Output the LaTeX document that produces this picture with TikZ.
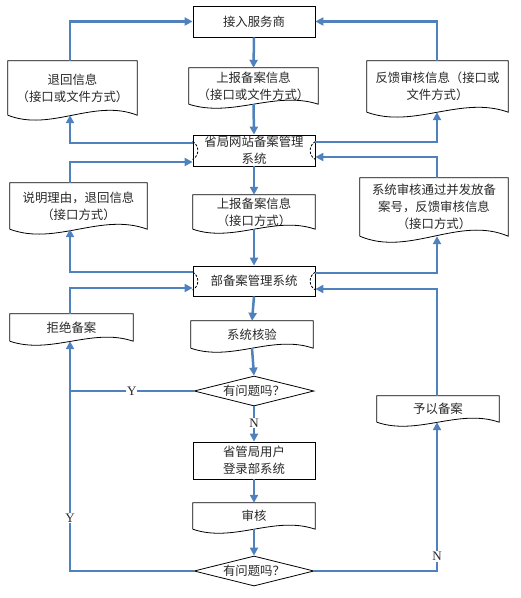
\documentclass[tikz,border=0pt]{standalone}
\usepackage{fontspec}
\setmainfont{Liberation Serif}
\newfontfamily\cjk{Noto Sans CJK SC}
\usetikzlibrary{shapes.geometric,arrows.meta,calc}
\definecolor{lineblue}{RGB}{79,129,189}
\definecolor{txtgray}{RGB}{40,40,40}
\newcommand\wavedoc[2]{%
  \draw[outl] (#1.south west) -- (#1.north west) -- (#1.north east) -- (#1.south east)
    .. controls ($(#1.south east)!0.333!(#1.south west)+(0,-#2)$) and ($(#1.south east)!0.667!(#1.south west)+(0,#2)$) .. (#1.south west);}
\newcommand\sidemarks[1]{%
  \draw[arcmark] ([yshift=9bp]#1.west) .. controls ([xshift=7bp,yshift=5bp]#1.west) and ([xshift=7bp,yshift=-5bp]#1.west) .. ([yshift=-9bp]#1.west);
  \draw[arcmark] ([yshift=9bp]#1.east) .. controls ([xshift=-7bp,yshift=5bp]#1.east) and ([xshift=-7bp,yshift=-5bp]#1.east) .. ([yshift=-9bp]#1.east);}
\begin{document}
\begin{tikzpicture}[x=1bp,y=-1bp,
  every node/.style={font=\cjk\fontsize{12.4bp}{17bp}\selectfont, text=txtgray, align=center, inner sep=0pt},
  box/.style={draw=black, line width=0.8bp, rectangle},
  doc/.style={rectangle},
  dec/.style={draw=black, line width=0.8bp, diamond, aspect=4, minimum width=120bp, minimum height=30bp},
  flow/.style={draw=lineblue, line width=2.5bp, -{Triangle[length=8bp,width=8bp]}},
  plain/.style={draw=lineblue, line width=2.5bp},
  yn/.style={font=\rmfamily\fontsize{13bp}{14bp}\selectfont, fill=white, inner sep=1bp},
  outl/.style={line width=0.8bp, line join=miter},
  arcmark/.style={line width=0.8bp, dash pattern=on 2.5bp off 1.5bp}
]
\useasboundingbox (0,0) rectangle (521,598);
\coordinate (Lx) at (70,0);
\coordinate (Rx) at (437,0);

% boxes
\node[box, minimum width=122bp, minimum height=31bp] (top) at (254,21.5) {接入服务商};
\node[box, minimum width=122bp, minimum height=31bp] (sj) at (254,150.5) {省局网站备案管理\\系统};
\node[box, minimum width=122bp, minimum height=30bp] (bj) at (254,281) {部备案管理系统};
\node[box, minimum width=122bp, minimum height=37bp] (gj) at (254,460.5) {省管局用户\\登录部系统};

% documents
\node[doc, minimum width=129bp, minimum height=36bp] (d1) at (253.5,86) {上报备案信息\\（接口或文件方式）};
\node[doc, minimum width=129bp, minimum height=54bp] (dl1) at (72.5,88) {退回信息\\（接口或文件方式）};
\node[doc, minimum width=141bp, minimum height=51bp] (dr1) at (437.5,86.5) {反馈审核信息（接口或\\文件方式）};
\node[doc, minimum width=122bp, minimum height=34bp] (d2) at (254,212) {上报备案信息\\（接口方式）};
\node[doc, minimum width=137bp, minimum height=46bp] (dl2) at (78.5,206) {说明理由，退回信息\\（接口方式）};
\node[doc, minimum width=148bp, minimum height=58bp] (dr2) at (434,207) {系统审核通过并发放备\\案号，反馈审核信息\\（接口方式）};
\node[doc, minimum width=122bp, minimum height=27bp] (d3) at (252,334.5) {系统核验};
\node[doc, minimum width=123bp, minimum height=27bp] (dl3) at (71.5,327.5) {拒绝备案};
\node[doc, minimum width=122bp, minimum height=26bp] (dr3) at (438,409) {予以备案};
\node[doc, minimum width=122bp, minimum height=26bp] (d4) at (254,516) {审核};

\wavedoc{d1}{14}
\wavedoc{dl1}{17}
\wavedoc{dr1}{17}
\wavedoc{d2}{14}
\wavedoc{dl2}{17}
\wavedoc{dr2}{21}
\wavedoc{d3}{14}
\wavedoc{dl3}{14}
\wavedoc{dr3}{14}
\wavedoc{d4}{14}

% decisions
\node[dec] (q1) at (254,391) {有问题吗？};
\node[dec] (q2) at (254,571) {有问题吗？};

\sidemarks{sj}
\sidemarks{bj}

% connectors
\draw[flow] (top.south) -- (d1.north);
\draw[flow] (d1.south) -- (sj.north);
\draw[flow] ([yshift=7.5bp]sj.west) -| (Lx |- dl1.south);
\draw[flow] (Lx |- dl1.north) |- (top.west);
\draw[flow] ([yshift=8.5bp]sj.east) -| (Rx |- dr1.south);
\draw[flow] (Rx |- dr1.north) |- (top.east);

\draw[flow] (sj.south) -- (d2.north);
\draw[flow] (d2.south) -- (bj.north);
\draw[flow] ([yshift=9bp]bj.west) -| (Lx |- dl2.south);
\draw[flow] (Lx |- dl2.north) |- ([yshift=-11.5bp]sj.west);
\draw[flow] ([yshift=8bp]bj.east) -| (Rx |- dr2.south);
\draw[flow] (Rx |- dr2.north) |- ([yshift=-6.5bp]sj.east);

\draw[flow] (bj.south) -- (d3.north);
\draw[flow] (d3.south) -- (q1.north);
\draw[flow] (Lx |- dl3.north) |- ([yshift=-7bp]bj.west);
\draw[flow] (Rx |- dr3.north) |- ([yshift=-8bp]bj.east);

\draw[plain] (q1.west) -- node[yn]{Y} (Lx |- q1.west);
\draw[flow] (q1.south) -- node[yn, pos=0.47]{N} (gj.north);
\draw[flow] (gj.south) -- (d4.north);
\draw[flow] (d4.south) -- (q2.north);
\draw[flow] (q2.west) -| node[yn, pos=0.615]{Y} (Lx |- dl3.south);
\draw[flow] (q2.east) -| node[yn, pos=0.549]{N} (Rx |- dr3.south);
\end{tikzpicture}
\end{document}
